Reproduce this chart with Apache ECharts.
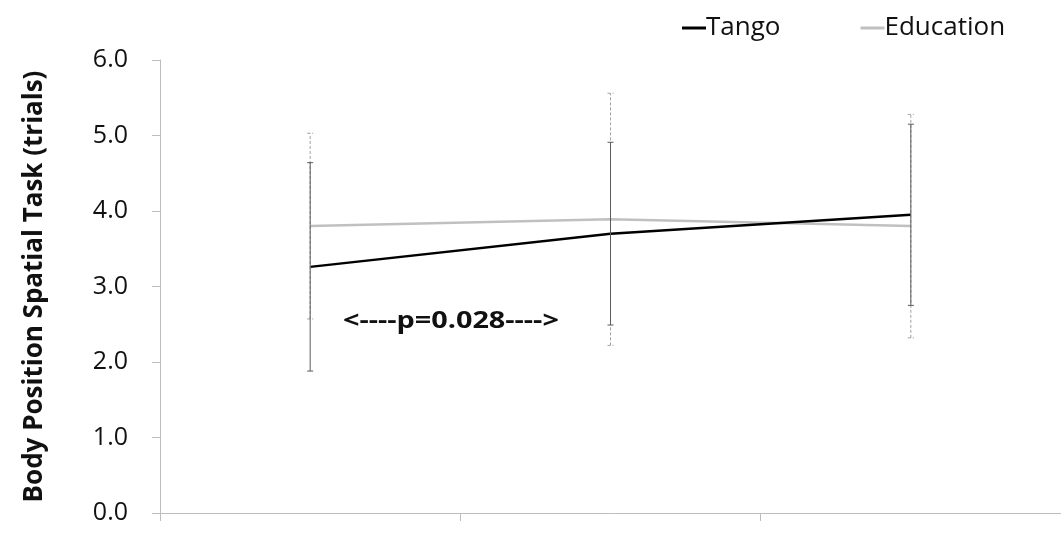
<!DOCTYPE html>
<html>
<head>
<meta charset="utf-8">
<script src="https://cdn.jsdelivr.net/npm/echarts@6/dist/echarts.min.js"></script>
<style>
  html, body { margin: 0; padding: 0; background: #fff; }
  #chart { width: 1061px; height: 533px; }
</style>
</head>
<body>
<div id="chart"></div>
<script>
// Three measurement sessions (unlabelled on the axis)
const sessions = ['1', '2', '3'];

// Group means
const tangoMean = [3.26, 3.70, 3.95];
const educationMean = [3.80, 3.89, 3.80];

// Error bar half-widths (±)
const tangoErr = [1.38, 1.21, 1.20];
const educationErr = [1.23, 1.67, 1.48];

// Y axis range
const yMin = 0;
const yMax = 6;
const yStep = 1;

const fontFamily = '"Open Sans", Lato, "DejaVu Sans", sans-serif';

function errorBarData(means, errs) {
  return means.map((m, i) => [i, m - errs[i], m + errs[i]]);
}

function makeErrorRenderer(color, dashed) {
  return function (params, api) {
    const x = api.value(0);
    const lo = api.coord([x, api.value(1)]);
    const hi = api.coord([x, api.value(2)]);
    const cap = 3;
    const style = {
      stroke: color,
      lineWidth: 1,
      lineDash: dashed ? [3, 2] : null
    };
    return {
      type: 'group',
      children: [
        { type: 'line', shape: { x1: lo[0], y1: lo[1], x2: hi[0], y2: hi[1] }, style: style },
        { type: 'line', shape: { x1: hi[0] - cap, y1: hi[1], x2: hi[0] + cap, y2: hi[1] }, style: style },
        { type: 'line', shape: { x1: lo[0] - cap, y1: lo[1], x2: lo[0] + cap, y2: lo[1] }, style: style }
      ]
    };
  };
}

const chart = echarts.init(document.getElementById('chart'), null, { renderer: 'canvas' });

chart.setOption({
  animation: false,
  backgroundColor: '#ffffff',
  grid: { left: 160, right: -5, top: 60, bottom: 20, containLabel: false },
  legend: {
    top: 10,
    left: 677,
    itemWidth: 24,
    itemHeight: 3,
    itemGap: 80,
    icon: 'rect',
    textStyle: { fontFamily: fontFamily, fontSize: 26, color: '#111', padding: [0, 0, 0, -5] },
    data: [
      { name: 'Tango', itemStyle: { color: '#000000' } },
      { name: 'Education', itemStyle: { color: '#c0c0c0' } }
    ]
  },
  xAxis: {
    type: 'category',
    data: sessions,
    boundaryGap: true,
    axisLine: { show: true, lineStyle: { color: '#bdbdbd', width: 1 } },
    axisTick: { show: true, length: 8, lineStyle: { color: '#bdbdbd' } },
    axisLabel: { show: false },
    splitLine: { show: false }
  },
  yAxis: {
    type: 'value',
    min: yMin,
    max: yMax,
    interval: yStep,
    name: 'Body Position Spatial Task (trials)',
    nameLocation: 'middle',
    nameGap: 112,
    nameRotate: 90,
    nameTextStyle: { fontFamily: fontFamily, fontSize: 26, fontWeight: 'bold', color: '#111' },
    axisLine: { show: true, lineStyle: { color: '#bdbdbd', width: 1 } },
    axisTick: { show: true, length: 8, lineStyle: { color: '#bdbdbd' } },
    axisLabel: {
      margin: 32,
      fontFamily: fontFamily,
      fontSize: 25,
      color: '#111',
      formatter: v => v.toFixed(1)
    },
    splitLine: { show: false }
  },
  graphic: [
    {
      type: 'text',
      left: 343,
      top: 309,
      scaleX: 1.2,
      originX: 0,
      style: {
        text: '<----p=0.028---->',
        font: 'bold 24px ' + fontFamily,
        fill: '#111'
      }
    }
  ],
  series: [
    {
      name: 'Education',
      type: 'line',
      data: educationMean,
      showSymbol: false,
      symbol: 'none',
      lineStyle: { color: '#c0c0c0', width: 2.5 },
      itemStyle: { color: '#c0c0c0' },
      z: 2
    },
    {
      name: 'Tango',
      type: 'line',
      data: tangoMean,
      showSymbol: false,
      symbol: 'none',
      lineStyle: { color: '#000000', width: 2.5 },
      itemStyle: { color: '#000000' },
      z: 3
    },
    {
      name: 'Education error',
      type: 'custom',
      data: errorBarData(educationMean, educationErr),
      renderItem: makeErrorRenderer('#a0a0a0', true),
      encode: { x: 0, y: [1, 2] },
      z: 4
    },
    {
      name: 'Tango error',
      type: 'custom',
      data: errorBarData(tangoMean, tangoErr),
      renderItem: makeErrorRenderer('#5a5a5a', false),
      encode: { x: 0, y: [1, 2] },
      z: 5
    }
  ]
});
</script>
</body>
</html>
